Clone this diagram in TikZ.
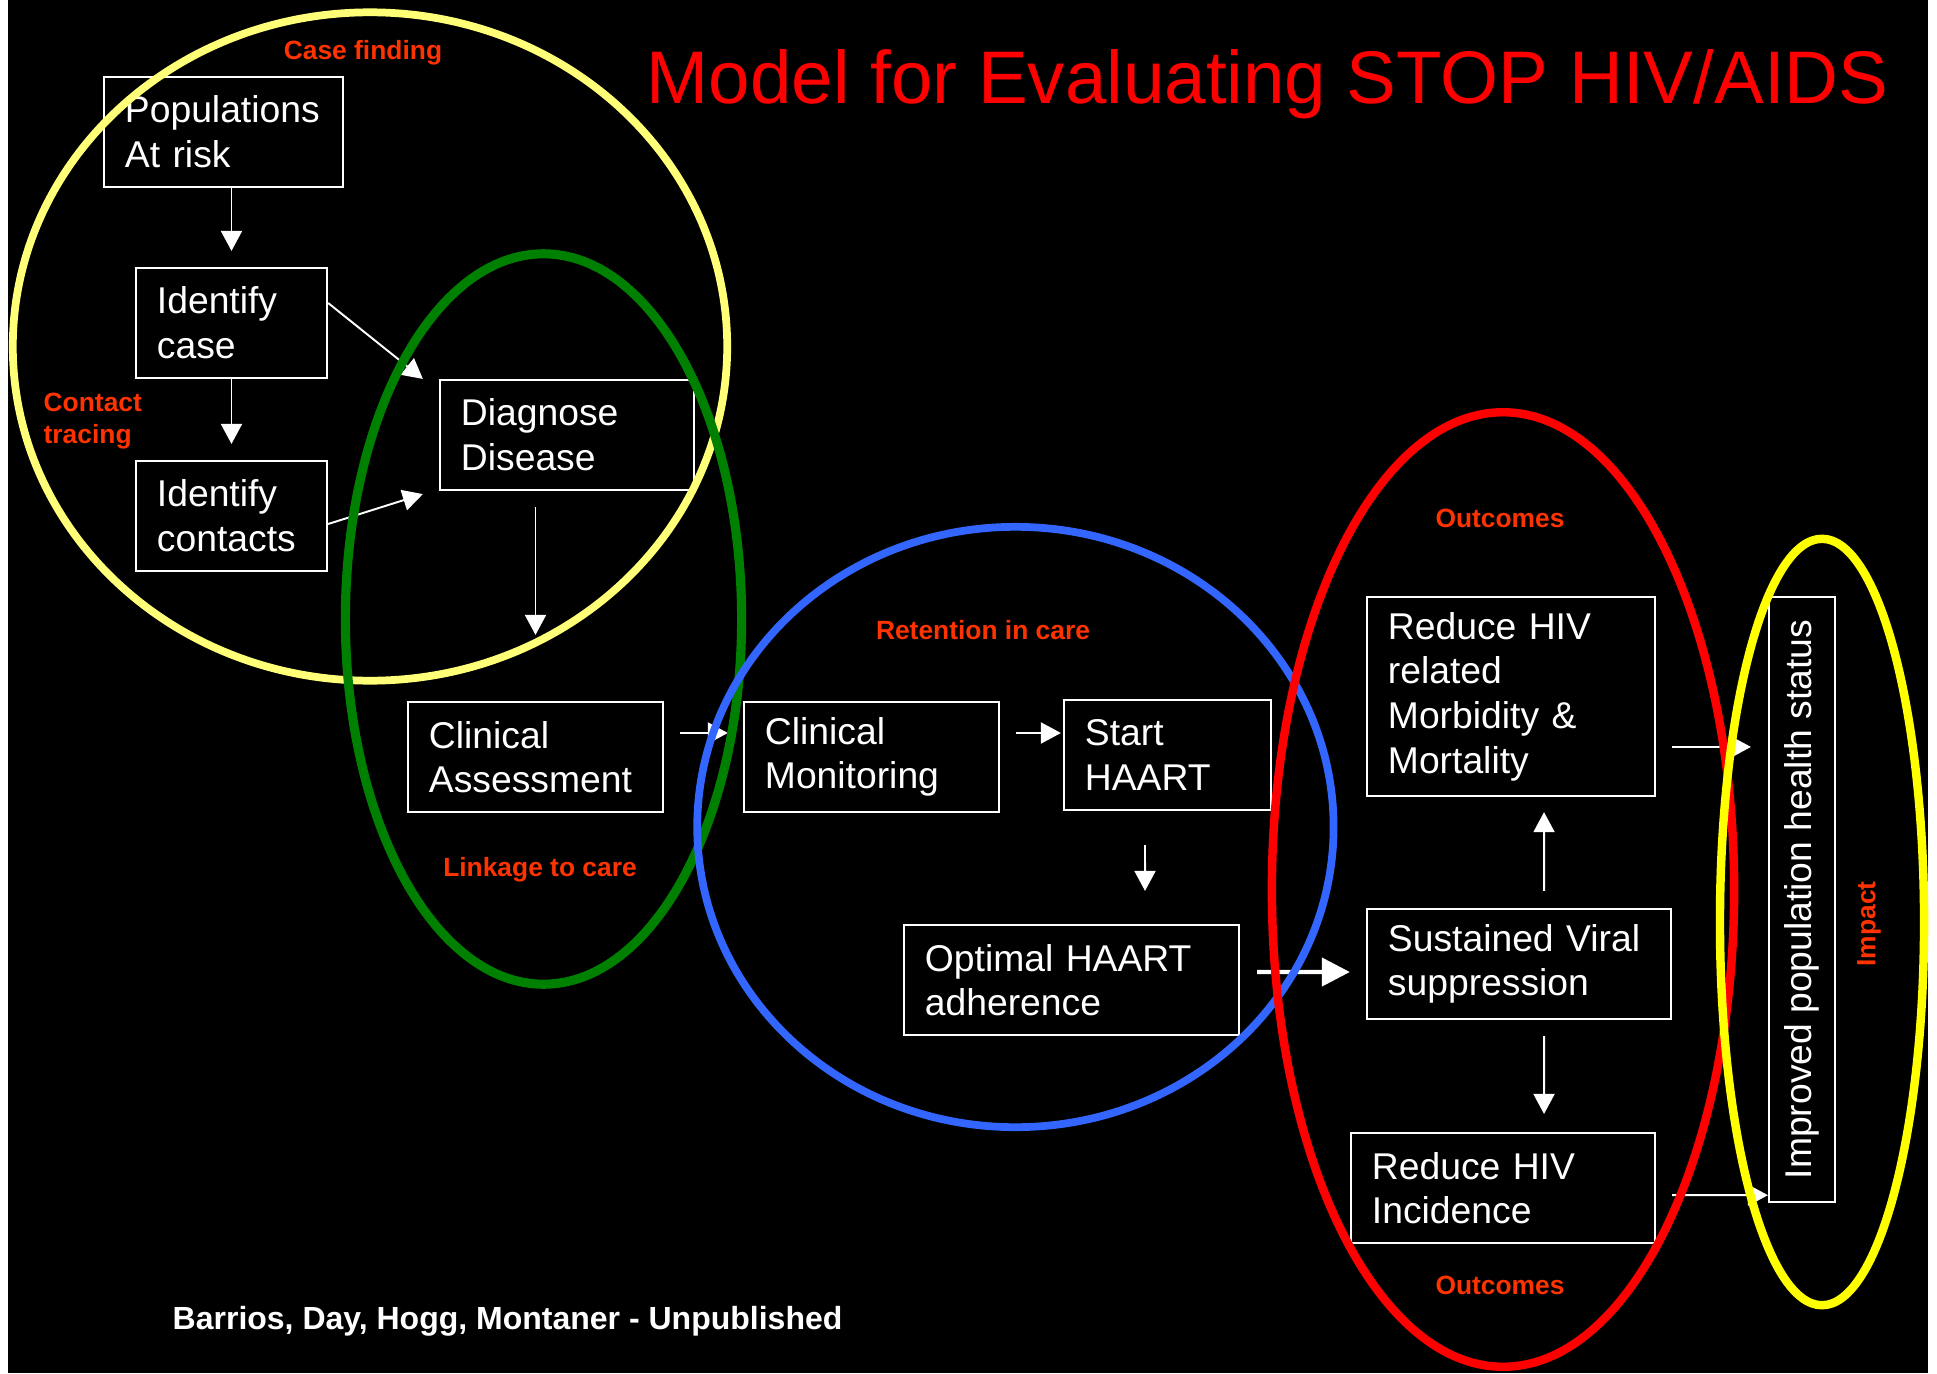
\documentclass[tikz,border=0pt]{standalone}
\usepackage{fontspec}
\setmainfont{Liberation Sans}
\usetikzlibrary{arrows.meta}
\definecolor{labc}{RGB}{255,51,0}
\definecolor{lyel}{RGB}{255,255,120}
\definecolor{ryel}{RGB}{255,255,0}
\definecolor{grn}{RGB}{0,128,0}
\definecolor{blu}{RGB}{51,102,255}
\definecolor{rd}{RGB}{255,0,0}
\begin{document}
\begin{tikzpicture}[x=0.01cm,y=-0.01cm,
 box/.style={draw=white, line width=0.6pt, text=white, align=left, inner xsep=0.21cm, inner ysep=0pt,
   font=\fontsize{10.6}{12.7}\selectfont},
 lab/.style={text=labc, font=\bfseries\fontsize{7.5}{9.1}\selectfont, inner sep=0pt},
 arr/.style={draw=white, line width=0.55pt, -{Triangle[length=0.2cm,width=0.21cm]}},
 thickarr/.style={draw=white, line width=1.2pt, -{Triangle[length=0.28cm,width=0.28cm]}},
]
\fill[white] (0,0) rectangle (1937,1373);
\fill[black] (8,0) rectangle (1928,1373);
\useasboundingbox (0,0) rectangle (1937,1373);

% title
\node[text=rd, font=\fontsize{21.2}{25}\selectfont, anchor=base west, inner sep=0pt] (title) at (646,104) {Model for Evaluating STOP HIV/AIDS};

% boxes
\node[box, text width=1.97cm, minimum height=1.1cm] (pop) at (223.5,132) {Populations\\At risk};
\node[box, text width=1.49cm, minimum height=1.1cm] (idc) at (231.5,323) {Identify\\case};
\node[box, text width=1.49cm, minimum height=1.1cm] (ict) at (231.5,516) {Identify\\contacts};
\node[box, text width=2.12cm, minimum height=1.1cm] (diag) at (567,435) {Diagnose\\Disease};
\node[box, text width=2.13cm, minimum height=1.1cm] (ca) at (535.5,757) {Clinical\\Assessment};
\node[box, text width=2.13cm, minimum height=1.1cm] (cm) at (871.5,757) {Clinical\\Monitoring};
\node[box, text width=1.65cm, minimum height=1.1cm] (sh) at (1167.5,755) {Start\\HAART};
\node[box, text width=2.93cm, minimum height=1.1cm] (opt) at (1071.5,980) {Optimal HAART\\adherence};
\node[box, text width=2.46cm, minimum height=1.99cm] (rm) at (1511,696.5) {Reduce HIV\\related\\Morbidity \&\\Mortality};
\node[box, text width=2.62cm, minimum height=1.1cm] (sv) at (1519,964) {Sustained Viral\\suppression};
\node[box, text width=2.62cm, minimum height=1.1cm] (ri) at (1503,1188) {Reduce HIV\\Incidence};
\node[box, inner xsep=0pt, minimum width=0.66cm, minimum height=6.05cm] (imp) at (1802,899.5) {\rotatebox{90}{Improved population health status}};

% arrows
\draw[arr, shorten >=0.16cm] (pop.south -| idc.north) -- (idc.north);
\draw[arr, shorten >=0.16cm] (idc.south) -- (ict.north);
\draw[arr] ([yshift=0.2cm]idc.east) -- ([xshift=-0.16cm]diag.north west);
\draw[arr] ([yshift=-0.08cm]ict.east) -- ([xshift=-0.16cm,yshift=-0.03cm]diag.south west);
\draw[arr, shorten <=0.16cm, shorten >=0.66cm] (diag.south -| ca.north) -- (ca.north);
\draw[arr, shorten <=0.16cm, shorten >=0.15cm] ([yshift=0.24cm]ca.east) -- ([yshift=0.24cm]cm.west);
\draw[arr, shorten <=0.16cm, shorten >=0.02cm] ([yshift=0.24cm]cm.east) -- ([yshift=0.22cm]sh.west);
\draw[arr, shorten <=0.34cm, shorten >=0.33cm] ([xshift=-0.225cm]sh.south) -- ([xshift=0.735cm]opt.north);
\draw[thickarr, shorten <=0.17cm, shorten >=0.16cm] ([yshift=0.08cm]opt.east) -- ([yshift=-0.08cm]sv.west);
\draw[arr, shorten <=0.17cm, shorten >=0.15cm] ([xshift=0.25cm]sv.north) -- ([xshift=0.33cm]rm.south);
\draw[arr, shorten <=0.16cm, shorten >=0.18cm] ([xshift=0.25cm]sv.south) -- ([xshift=0.41cm]ri.north);
\draw[arr, shorten <=0.16cm, shorten >=0.17cm] ([yshift=-0.505cm]rm.east) -- ([yshift=1.525cm]imp.west);
\draw[arr, shorten <=0.16cm] ([yshift=-0.07cm]ri.east) -- ([yshift=-2.955cm]imp.west);

% rings
\draw[lyel, line width=2.2pt] (370,346.5) ellipse [x radius=3.57cm, y radius=3.34cm];
\draw[grn, line width=2.6pt] (543.5,619) ellipse [x radius=1.98cm, y radius=3.65cm];
\draw[blu, line width=2.2pt] (1015.4,827) ellipse [x radius=3.18cm, y radius=3.0cm];
\draw[rd, line width=2.4pt] (1503,889.5) ellipse [x radius=2.31cm, y radius=4.77cm];
\draw[ryel, line width=2.4pt] (1822,922) ellipse [x radius=1.02cm, y radius=3.83cm];

% labels
\node[lab] (cf) at (363,53) {Case finding};
\node[lab, align=left, anchor=west] (ct) at (43,421) {Contact\\tracing};
\node[lab] (lk) at (540,870) {Linkage to care};
\node[lab] (rt) at (983,630) {Retention in care};
\node[lab] (o1) at (1500,518) {Outcomes};
\node[lab] (o2) at (1500,1285) {Outcomes};
\node[lab, rotate=90] (ip) at (1869,924) {Impact};
\node[text=white, font=\bfseries\fontsize{9.1}{11}\selectfont, anchor=west, inner sep=0pt] (ft) at (172,1321) {Barrios, Day, Hogg, Montaner - Unpublished};
\end{tikzpicture}
\end{document}
